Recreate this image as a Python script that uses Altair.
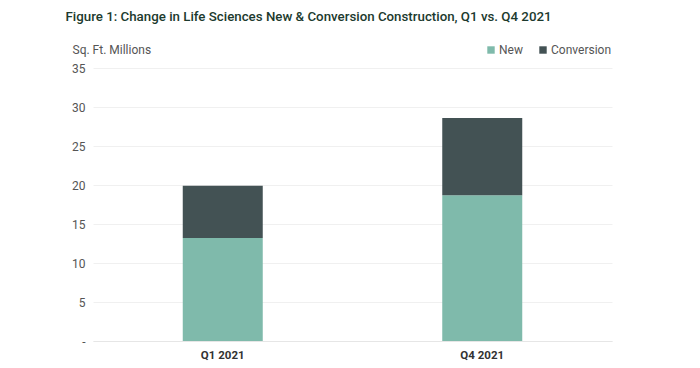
import altair as alt
import pandas as pd

quarters = ["Q1 2021", "Q4 2021"]
new_vals = [13.2, 18.7]
conv_vals = [6.7, 9.9]
series = ["New", "Conversion"]
colors = ["#7fbaab", "#435254"]

rows = []
for q, n, c in zip(quarters, new_vals, conv_vals):
    rows.append({"quarter": q, "type": "New", "value": n, "order": 0})
    rows.append({"quarter": q, "type": "Conversion", "value": c, "order": 1})
df = pd.DataFrame(rows)

FONT = "Roboto, sans-serif"

chart = alt.Chart(df).mark_bar(size=80).encode(
    x=alt.X("quarter:N", sort=quarters,
            scale=alt.Scale(paddingInner=0, paddingOuter=0),
            axis=alt.Axis(title=None, labelAngle=0, labelFontWeight="bold",
                          labelColor="#333", labelFontSize=11.5, labelPadding=8,
                          ticks=False, domainColor="#e6e6e6", labelFont=FONT)),
    y=alt.Y("value:Q", stack="zero",
            scale=alt.Scale(domain=[0, 35]),
            axis=alt.Axis(values=[0, 5, 10, 15, 20, 25, 30, 35],
                          labelExpr="datum.value == 0 ? '-' : datum.label",
                          title="Sq. Ft. Millions", titleAngle=0, titleAlign="left",
                          titleX=-21, titleY=-19, titleBaseline="middle",
                          titleFontWeight="normal", titleFontSize=12, titleColor="#555",
                          titleFont=FONT,
                          labelColor="#555", labelFontSize=12, labelPadding=8,
                          labelFont=FONT,
                          ticks=False, domain=False, gridColor="#f0f0f0")),
    color=alt.Color("type:N", sort=series,
                    scale=alt.Scale(domain=series, range=colors),
                    legend=alt.Legend(title=None, orient="none", direction="horizontal",
                                      legendX=392, legendY=-24, symbolType="square",
                                      symbolSize=55, labelFontSize=12, labelColor="#555",
                                      labelFont=FONT, columnPadding=14, labelOffset=2,
                                      symbolStrokeWidth=0)),
    order=alt.Order("order:Q"),
).properties(
    width=519, height=273,
    padding={"left": 85, "top": 60, "right": 80, "bottom": 20},
    autosize=alt.AutoSizeParams(type="none"),
    title=alt.TitleParams(
        "Figure 1: Change in Life Sciences New & Conversion Construction, Q1 vs. Q4 2021",
        anchor="start", dx=-6, offset=20, fontSize=13.3, font=FONT,
        fontWeight=500, color="#1c3a2e"),
).configure_view(stroke=None)

chart.save("out.html", embed_options={"renderer": "svg", "actions": False})
